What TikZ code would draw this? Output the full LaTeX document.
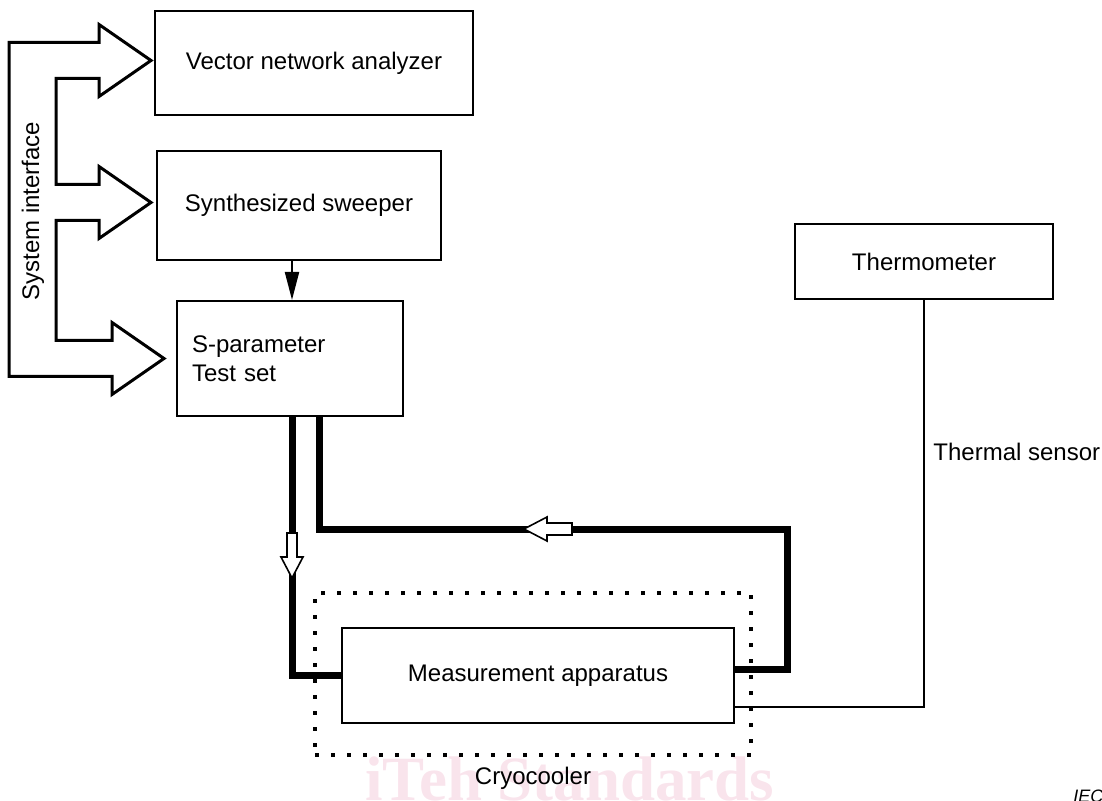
\documentclass[tikz,border=0pt]{standalone}
\usepackage{fontspec}
\setmainfont{Liberation Sans}
\newfontfamily\markfont{Liberation Serif}
\usetikzlibrary{calc,arrows.meta}

\definecolor{markpink}{RGB}{249,228,236}

\tikzset{
  box/.style={draw, line width=1pt, inner sep=0pt},
  cable/.style={line width=3.5pt, line join=miter},
  hollow/.style={draw, fill=white, line width=0.8pt, line join=miter},
  bus/.style={line width=1.5pt, line join=miter},
  cryobox/.style={draw, line width=2pt, dash pattern=on 2pt off 6pt},
}

\begin{document}
\begin{tikzpicture}[x=0.5pt, y=-0.5pt,
    every node/.style={font=\fontsize{12}{14.5}\selectfont}]

    \useasboundingbox (0,0) rectangle (1102,801);

    % watermark behind everything
    \node[anchor=base west, inner sep=0pt, text=markpink,
          font=\markfont\bfseries\fontsize{31.5}{31.5}\selectfont] (mark) at (365,800) {iTeh Standards};

    % instruments
    \node[box, minimum width=159pt, minimum height=52pt] (vna) at (314,63.5) {Vector network analyzer};
    \node[box, minimum width=142pt, minimum height=54.5pt] (sweep) at (299,205.5) {Synthesized sweeper};
    \node[box, minimum width=113pt, minimum height=57.5pt, inner xsep=7.5pt,
          text width=98pt, align=left] (test) at (290,358.5) {S-parameter\\Test set};
    \node[box, minimum width=129pt, minimum height=37.5pt] (thermo) at (924,261.5) {Thermometer};

    % cryocooler with the apparatus inside
    \node[cryobox, minimum width=218pt, minimum height=81pt] (cryo) at (533,674) {};
    \node (cryoname) at (533,778) {Cryocooler};
    \node[box, fill=white, minimum width=196pt, minimum height=47.5pt] (meas) at (538,675.5) {Measurement apparatus};

    % system interface bus
    \coordinate (tipA) at ($(vna.west)+(-3,-3)$);
    \coordinate (tipB) at ($(sweep.west)+(-5,-3)$);
    \coordinate (tipC) at ($(test.west)+(-12,0)$);
    \draw[bus] (tipA) -- ++(-52,36) -- ++(0,-18) -- ++(-43,0)
        |- ($(tipB)+(-52,-18)$) -- ++(0,-18) -- (tipB) -- ++(-52,36) -- ++(0,-18) -- ++(-43,0)
        |- ($(tipC)+(-52,-18)$) -- ++(0,-18) -- (tipC) -- ++(-52,36) -- ++(0,-18)
        -| ($(tipA)+(-142,-18)$) -- ++(90,0) -- ++(0,-18) -- cycle;
    \node[rotate=90] (busname) at (33,211) {System interface};

    % sweeper drives the test set
    \coordinate (downA) at ($(test.south)+(2,0)$);
    \draw[line width=1pt, -{Triangle[length=14pt, width=7pt]}] (sweep.south -| downA) -- (test.north -| downA);

    % microwave cables
    \coordinate (downB) at ($(test.south)+(29,0)$);
    \coordinate (ret) at (787,529);
    \draw[cable] (downA) |- (meas.west);
    \draw[cable] (downB) |- (ret) |- ($(meas.east)+(0,-6)$);

    \coordinate (tipD) at ($(downA)+(0,161)$);
    \draw[hollow] (tipD) -- ++(-11,-21) -- ++(6,0) -- ++(0,-24) -- ++(10,0) -- ++(0,24) -- ++(6,0) -- cycle;
    \coordinate (tipE) at (524,529);
    \draw[hollow] (tipE) -- ++(23,-12) -- ++(0,6) -- ++(25,0) -- ++(0,12) -- ++(-25,0) -- ++(0,6) -- cycle;

    % temperature readout
    \draw[line width=1pt] ($(meas.south east)+(0,-17)$) -| (thermo.south);
    \node[anchor=west, inner sep=0pt] (sensorname) at (933,452) {Thermal sensor};

    \node[anchor=base west, inner sep=0pt, font=\itshape\fontsize{9}{9}\selectfont] (iec) at (1073,802) {IEC};

\end{tikzpicture}
\end{document}
